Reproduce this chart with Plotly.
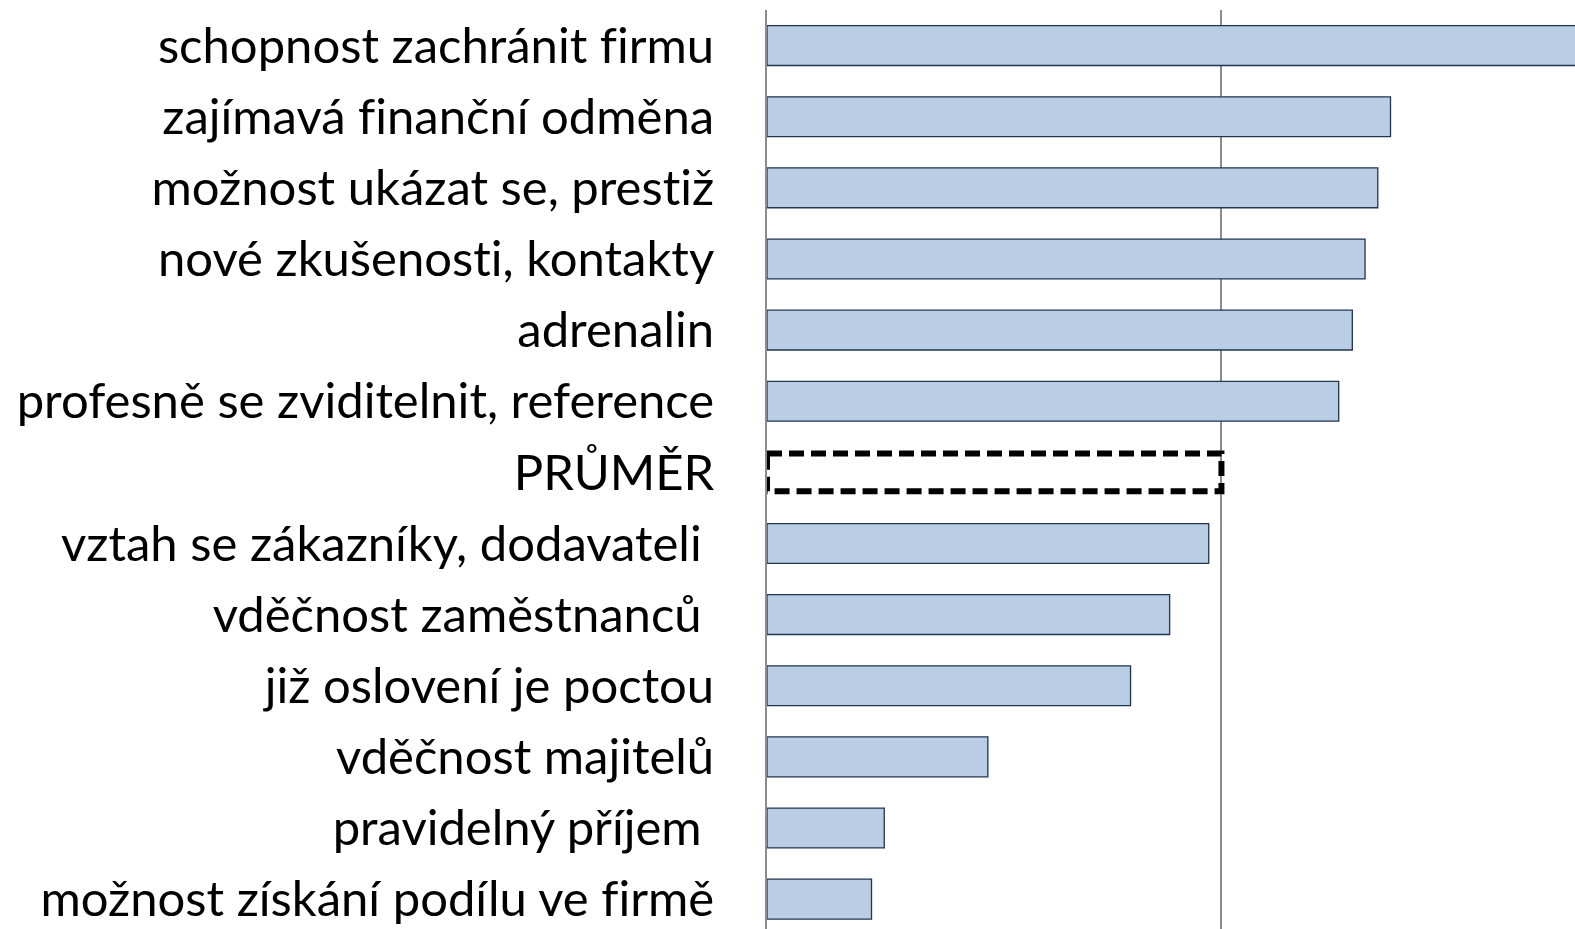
import plotly.graph_objects as go

# Motivation items, top to bottom
categories = [
    "schopnost zachránit firmu",
    "zajímavá finanční odměna",
    "možnost ukázat se, prestiž",
    "nové zkušenosti, kontakty",
    "adrenalin",
    "profesně se zviditelnit, reference",
    "PRŮMĚR",
    "vztah se zákazníky, dodavateli\u00a0",
    "vděčnost zaměstnanců\u00a0",
    "již oslovení je poctou",
    "vděčnost majitelů",
    "pravidelný příjem\u00a0",
    "možnost získání podílu ve firmě",
]
values = [95.0, 68.6, 67.2, 65.8, 64.4, 62.9, 50.0, 48.6, 44.3, 40.0, 24.3, 12.9, 11.5]
average_label = "PRŮMĚR"
x_max = 88.9
bar_width = 0.56

avg_idx = categories.index(average_label)
avg_value = values[avg_idx]

# Regular bars (the average row is drawn separately as a dashed outline)
bar_vals = [None if c == average_label else v for c, v in zip(categories, values)]

fig = go.Figure()
fig.add_trace(go.Bar(
    y=categories,
    x=bar_vals,
    orientation="h",
    width=bar_width,
    marker=dict(color="#B9CDE5", line=dict(color="#1F3550", width=1.3)),
    showlegend=False,
    hoverinfo="x+y",
))

# Dashed outline for the average row
fig.add_shape(
    type="rect",
    xref="x", yref="y",
    x0=0, x1=avg_value,
    y0=avg_idx - bar_width / 2 + 0.015, y1=avg_idx + bar_width / 2 - 0.015,
    line=dict(color="black", width=6, dash="15px,7px"),
    fillcolor="rgba(0,0,0,0)",
    layer="above",
)

fig.update_layout(
    width=1575,
    height=929,
    margin=dict(l=767, r=0, t=10, b=0),
    paper_bgcolor="white",
    plot_bgcolor="white",
    font=dict(family="Lato, sans-serif", color="black"),
)
fig.update_xaxes(
    range=[0, x_max],
    showgrid=True,
    gridcolor="#8C8C8C",
    gridwidth=1.5,
    dtick=50,
    tick0=0,
    showticklabels=False,
    zeroline=False,
    showline=False,
    ticks="",
    fixedrange=True,
)
fig.update_yaxes(
    type="category",
    categoryorder="array",
    categoryarray=categories,
    # reversed: first item at the top; the last row runs slightly past the bottom edge
    range=[len(categories) - 0.58, -0.5],
    showline=True,
    linecolor="#8C8C8C",
    linewidth=2,
    showgrid=False,
    ticks="",
    ticklabelstandoff=41,
    tickfont=dict(size=49, family="Lato, sans-serif", color="black"),
    fixedrange=True,
)

# Plain letter forms in the labels (no fi / ti ligatures)
no_ligatures = (
    "var s=document.createElement('style');"
    "s.textContent='svg text{font-variant-ligatures:none;font-feature-settings:\"liga\" 0,\"clig\" 0;}';"
    "document.head.appendChild(s);"
)

fig.write_html("out.html", post_script=no_ligatures)
